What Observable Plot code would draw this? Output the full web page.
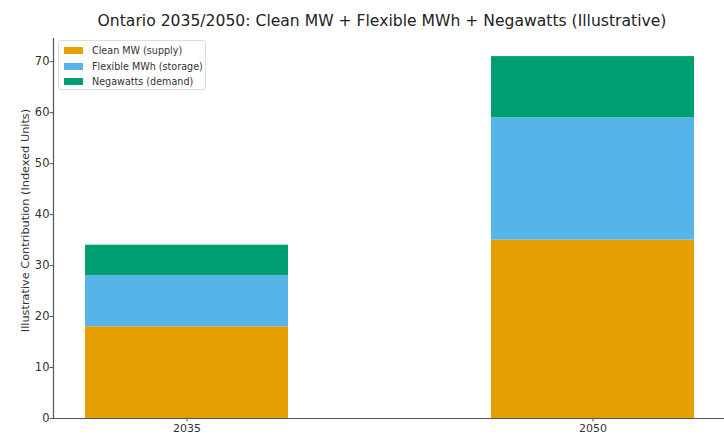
<!DOCTYPE html>
<html>
<head>
<meta charset="utf-8">
<script src="https://cdn.jsdelivr.net/npm/d3@7"></script>
<script src="https://cdn.jsdelivr.net/npm/@observablehq/plot@0.6"></script>
<style>
  body { margin: 0; background: #fff; font-family: "DejaVu Sans", sans-serif; }
  #wrap { position: relative; width: 724px; height: 435px; overflow: hidden; }
  #title { position: absolute; left: 0; top: 0; width: 764px; height: 37px;
           text-align: center; font-size: 15.6px; line-height: 20px; padding-top: 11px;
           box-sizing: border-box; color: #222; white-space: nowrap; }
  #chart { position: absolute; left: 0; top: 37px; }
  #legend { position: absolute; left: 58px; top: 40px; width: 148px; height: 50px; padding: 2px 0 0 0;
            border: 1px solid #ddd; border-radius: 3px; background: rgba(255,255,255,0.85);
            font-size: 9.6px; color: #333; box-sizing: border-box; }
  .row { display: flex; align-items: center; height: 15.5px; }
  .sw { width: 19px; height: 7px; margin: 0 9px 0 5px; }
</style>
</head>
<body>
<div id="wrap">
  <div id="title">Ontario 2035/2050: Clean MW + Flexible MWh + Negawatts (Illustrative)</div>
  <div id="chart"></div>
  <div id="legend"></div>
</div>
<script>
// Scenario years and the three stacked contributions (indexed units)
const years = ["2035", "2050"];
const seriesNames = ["Clean MW (supply)", "Flexible MWh (storage)", "Negawatts (demand)"];
const cleanMW = [18, 35];
const flexibleMWh = [10, 24];
const negawatts = [6, 12];
const seriesColors = ["#E69F00", "#56B4E9", "#009E73"];
const yTicks = [0, 10, 20, 30, 40, 50, 60, 70];

const seriesValues = [cleanMW, flexibleMWh, negawatts];
const rows = [];
seriesNames.forEach((name, s) => {
  years.forEach((year, i) => rows.push({ year, series: name, value: seriesValues[s][i] }));
});

const total = d3.max(years.map((_, i) => cleanMW[i] + flexibleMWh[i] + negawatts[i]));

const chart = Plot.plot({
  width: 724,
  height: 398,
  marginLeft: 53,
  marginRight: 0,
  marginTop: 1,
  marginBottom: 17,
  style: { fontFamily: "DejaVu Sans, sans-serif", fontSize: "11px", color: "#333", background: "#fff" },
  x: { domain: years, range: [-118, 897], padding: 0.5, label: null },
  y: { domain: [0, total * 1.05], ticks: yTicks, label: null },
  color: { domain: seriesNames, range: seriesColors },
  marks: [
    Plot.barY(rows, { x: "year", y: "value", fill: "series", order: seriesNames }),
    Plot.ruleY([0], { stroke: "#555", strokeWidth: 1.2 }),
    Plot.axisY({ ticks: yTicks, tickSize: 3.5, tickPadding: 0.5, stroke: "#555", fontSize: 11.5 }),
    Plot.axisX({ tickSize: 3.5, tickPadding: 2, stroke: "#555", fontSize: 11 }),
    Plot.frame({ anchor: "left", stroke: "#555", strokeWidth: 1.2 }),
    Plot.text(["Illustrative Contribution (Indexed Units)"], {
      frameAnchor: "left", textAnchor: "middle", dx: -28, dy: -8, rotate: -90, fontSize: 11.3, fill: "#333"
    })
  ]
});
document.getElementById("chart").appendChild(chart);

// Legend box drawn in the upper-left corner of the plot area
const legend = document.getElementById("legend");
seriesNames.forEach((name, i) => {
  const row = document.createElement("div");
  row.className = "row";
  const sw = document.createElement("span");
  sw.className = "sw";
  sw.style.background = seriesColors[i];
  const label = document.createElement("span");
  label.textContent = name;
  row.appendChild(sw);
  row.appendChild(label);
  legend.appendChild(row);
});
</script>
</body>
</html>
